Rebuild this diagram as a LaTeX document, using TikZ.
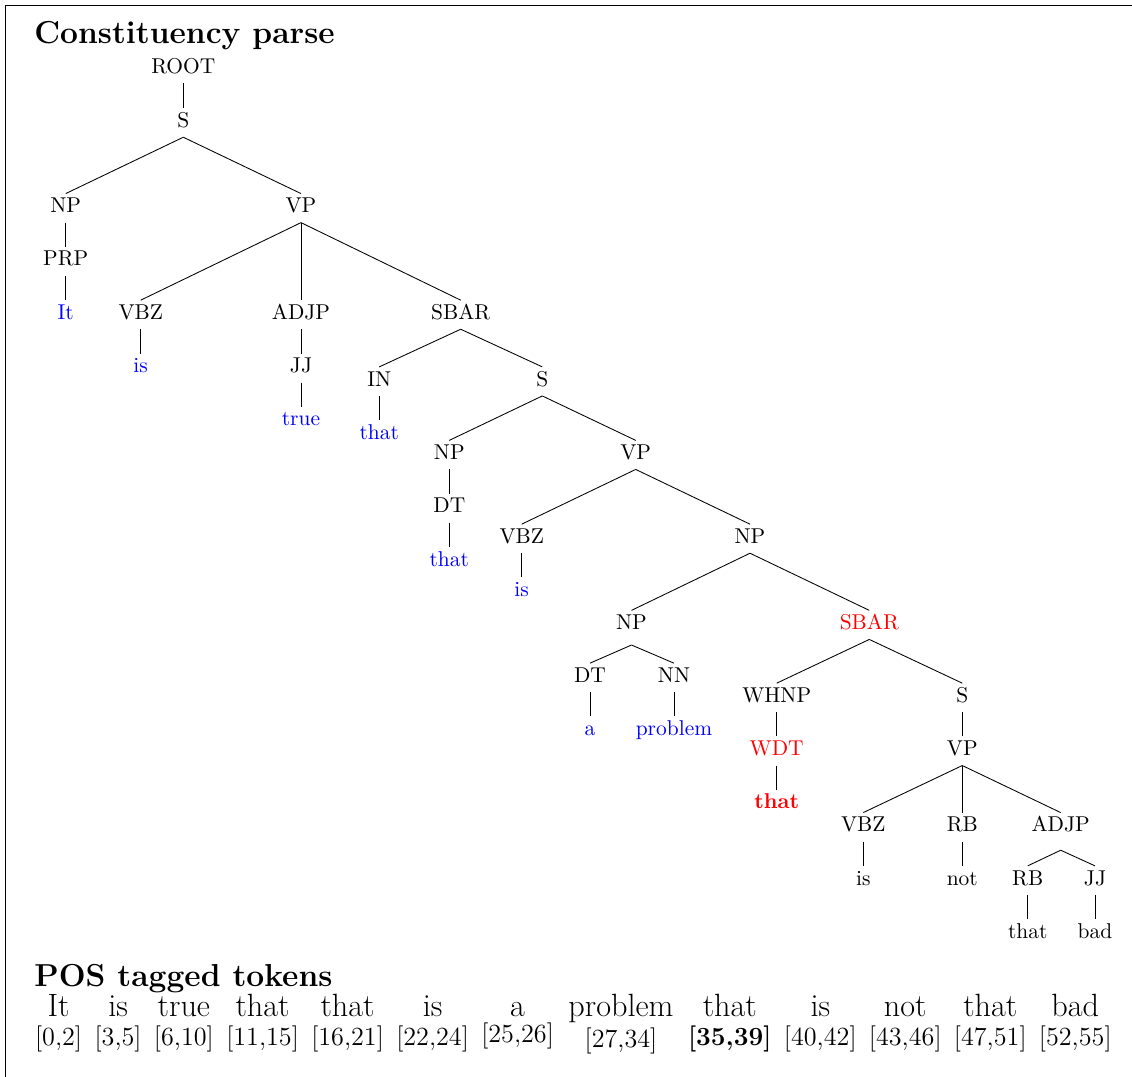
\documentclass[tikz,border=0pt]{standalone}
\begin{document}
\begin{tikzpicture}[x=0.466pt,y=-0.466pt,
  tn/.style={anchor=base, inner xsep=1pt, inner ysep=1.88pt, text height=6.83pt, text depth=2.55pt},
  lf/.style={tn, text=blue},
  hl/.style={tn, text=red},
  br/.style={draw=black, line width=0.4pt},
  head/.style={anchor=base west, inner sep=0pt, font=\fontsize{14.8}{18}\selectfont\bfseries},
  tok/.style={anchor=base, inner sep=0pt, font=\fontsize{15}{18}\selectfont},
  spn/.style={anchor=base, inner sep=0pt, font=\fontsize{12.2}{15}\selectfont},
]
\useasboundingbox (0,0) rectangle (1132,1077);
% frame
\draw[line width=0.5pt] (5.5,1077) -- (5.5,5.5) -- (1132,5.5);

% headings
\node[head] (h1) at (34,44) {Constituency parse};
\node[head] (h2) at (34,986) {POS tagged tokens};

% tree nodes
\node[tn] (ROOT) at (183.3,73.3) {ROOT};
\node[tn] (S1) at (183.3,127.3) {S};
\node[tn] (NP1) at (65.7,212.7) {NP};
\node[tn] (VP1) at (301,212.7) {VP};
\node[tn] (PRP) at (65.7,266) {PRP};
\node[lf] (It) at (65.7,319.3) {It};
\node[tn] (VBZ1) at (140.7,319.3) {VBZ};
\node[tn] (ADJP1) at (301,319.3) {ADJP};
\node[tn] (SBAR1) at (460.7,319.3) {SBAR};
\node[lf] (is1) at (140.7,372.7) {is};
\node[tn] (JJ1) at (301,372.7) {JJ};
\node[lf] (true) at (301,426) {true};
\node[tn] (IN) at (379.3,386) {IN};
\node[tn] (S2) at (542.3,386) {S};
\node[lf] (that1) at (379.3,439.3) {that};
\node[tn] (NP2) at (449.3,459.5) {NP};
\node[tn] (VP2) at (635.7,459.5) {VP};
\node[tn] (DT1) at (449.3,512.7) {DT};
\node[lf] (that2) at (449.3,566.3) {that};
\node[tn] (VBZ2) at (521.7,543.3) {VBZ};
\node[lf] (is2) at (521.7,596.5) {is};
\node[tn] (NP3) at (750,543.3) {NP};
\node[tn] (NP4) at (631.5,629.5) {NP};
\node[hl] (SBAR2) at (869.3,629.5) {SBAR};
\node[tn] (DT2) at (590,682.3) {DT};
\node[tn] (NN) at (674,682.3) {NN};
\node[lf] (a) at (590,735.6) {a};
\node[lf] (problem) at (674,735.6) {problem};
\node[tn] (WHNP) at (776.7,702.3) {WHNP};
\node[tn] (S3) at (962.3,702.3) {S};
\node[hl] (WDT) at (776.7,755.6) {WDT};
\node[tn] (VP3) at (962.3,755.6) {VP};
\node[hl,font=\bfseries] (that4) at (776.7,808.9) {that};
\node[tn] (VBZ3) at (863.3,831.7) {VBZ};
\node[tn] (RB1) at (962.3,831.7) {RB};
\node[tn] (ADJP2) at (1060.7,831.7) {ADJP};
\node[tn] (is3) at (863.3,885) {is};
\node[tn] (not) at (962.3,885) {not};
\node[tn] (RB2) at (1027.7,885) {RB};
\node[tn] (JJ2) at (1095,885) {JJ};
\node[tn] (that5) at (1027.7,938.3) {that};
\node[tn] (bad) at (1095,938.3) {bad};

% lowered branching points of the two short fans
\coordinate (NP4x) at ([yshift=-2.6pt]NP4.south);
\coordinate (ADJP2x) at ([yshift=-4pt]ADJP2.south);

% branches
\draw[br] (ROOT.south) -- (S1.north);
\draw[br] (S1.south) -- (NP1.north);
\draw[br] (S1.south) -- (VP1.north);
\draw[br] (NP1.south) -- (PRP.north);
\draw[br] (PRP.south) -- (It.north);
\draw[br] (VP1.south) -- (VBZ1.north);
\draw[br] (VP1.south) -- (ADJP1.north);
\draw[br] (VP1.south) -- (SBAR1.north);
\draw[br] (VBZ1.south) -- (is1.north);
\draw[br] (ADJP1.south) -- (JJ1.north);
\draw[br] (JJ1.south) -- (true.north);
\draw[br] (SBAR1.south) -- (IN.north);
\draw[br] (SBAR1.south) -- (S2.north);
\draw[br] (IN.south) -- (that1.north);
\draw[br] (S2.south) -- (NP2.north);
\draw[br] (S2.south) -- (VP2.north);
\draw[br] (NP2.south) -- (DT1.north);
\draw[br] (DT1.south) -- (that2.north);
\draw[br] (VP2.south) -- (VBZ2.north);
\draw[br] (VP2.south) -- (NP3.north);
\draw[br] (VBZ2.south) -- (is2.north);
\draw[br] (NP3.south) -- (NP4.north);
\draw[br] (NP3.south) -- (SBAR2.north);
\draw[br] (NP4x) -- (DT2.north);
\draw[br] (NP4x) -- (NN.north);
\draw[br] (DT2.south) -- (a.north);
\draw[br] (NN.south) -- (problem.north);
\draw[br] (SBAR2.south) -- (WHNP.north);
\draw[br] (SBAR2.south) -- (S3.north);
\draw[br] (WHNP.south) -- (WDT.north);
\draw[br] (WDT.south) -- (that4.north);
\draw[br] (S3.south) -- (VP3.north);
\draw[br] (VP3.south) -- (VBZ3.north);
\draw[br] (VP3.south) -- (RB1.north);
\draw[br] (VP3.south) -- (ADJP2.north);
\draw[br] (VBZ3.south) -- (is3.north);
\draw[br] (RB1.south) -- (not.north);
\draw[br] (ADJP2x) -- (RB2.north);
\draw[br] (ADJP2x) -- (JJ2.north);
\draw[br] (RB2.south) -- (that5.north);
\draw[br] (JJ2.south) -- (bad.north);

% token row
\node[tok] (t1) at (58.6,1016) {It};
\node[tok] (t2) at (118.1,1016) {is};
\node[tok] (t3) at (183.9,1016) {true};
\node[tok] (t4) at (262.6,1016) {that};
\node[tok] (t5) at (347.6,1016) {that};
\node[tok] (t6) at (432.6,1016) {is};
\node[tok] (t7) at (517.6,1016) {a};
\node[tok] (t8) at (621.0,1016) {problem};
\node[tok] (t9) at (729.8,1016) {that};
\node[tok] (t10) at (820.3,1016) {is};
\node[tok] (t11) at (905.3,1016) {not};
\node[tok] (t12) at (990.3,1016) {that};
\node[tok] (t13) at (1075.3,1016) {bad};

\node[spn] (s1) at (58.6,1045) {[0,2]};
\node[spn] (s2) at (118.1,1045) {[3,5]};
\node[spn] (s3) at (183.9,1045) {[6,10]};
\node[spn] (s4) at (262.6,1045) {[11,15]};
\node[spn] (s5) at (347.6,1045) {[16,21]};
\node[spn] (s6) at (432.6,1045) {[22,24]};
\node[spn] (s7) at (517.6,1042) {[25,26]};
\node[spn] (s8) at (621.0,1047) {[27,34]};
\node[spn,font=\fontsize{12.2}{15}\selectfont\bfseries] (s9) at (729.8,1045) {[35,39]};
\node[spn] (s10) at (820.3,1045) {[40,42]};
\node[spn] (s11) at (905.3,1045) {[43,46]};
\node[spn] (s12) at (990.3,1045) {[47,51]};
\node[spn] (s13) at (1075.3,1045) {[52,55]};
\end{tikzpicture}
\end{document}
